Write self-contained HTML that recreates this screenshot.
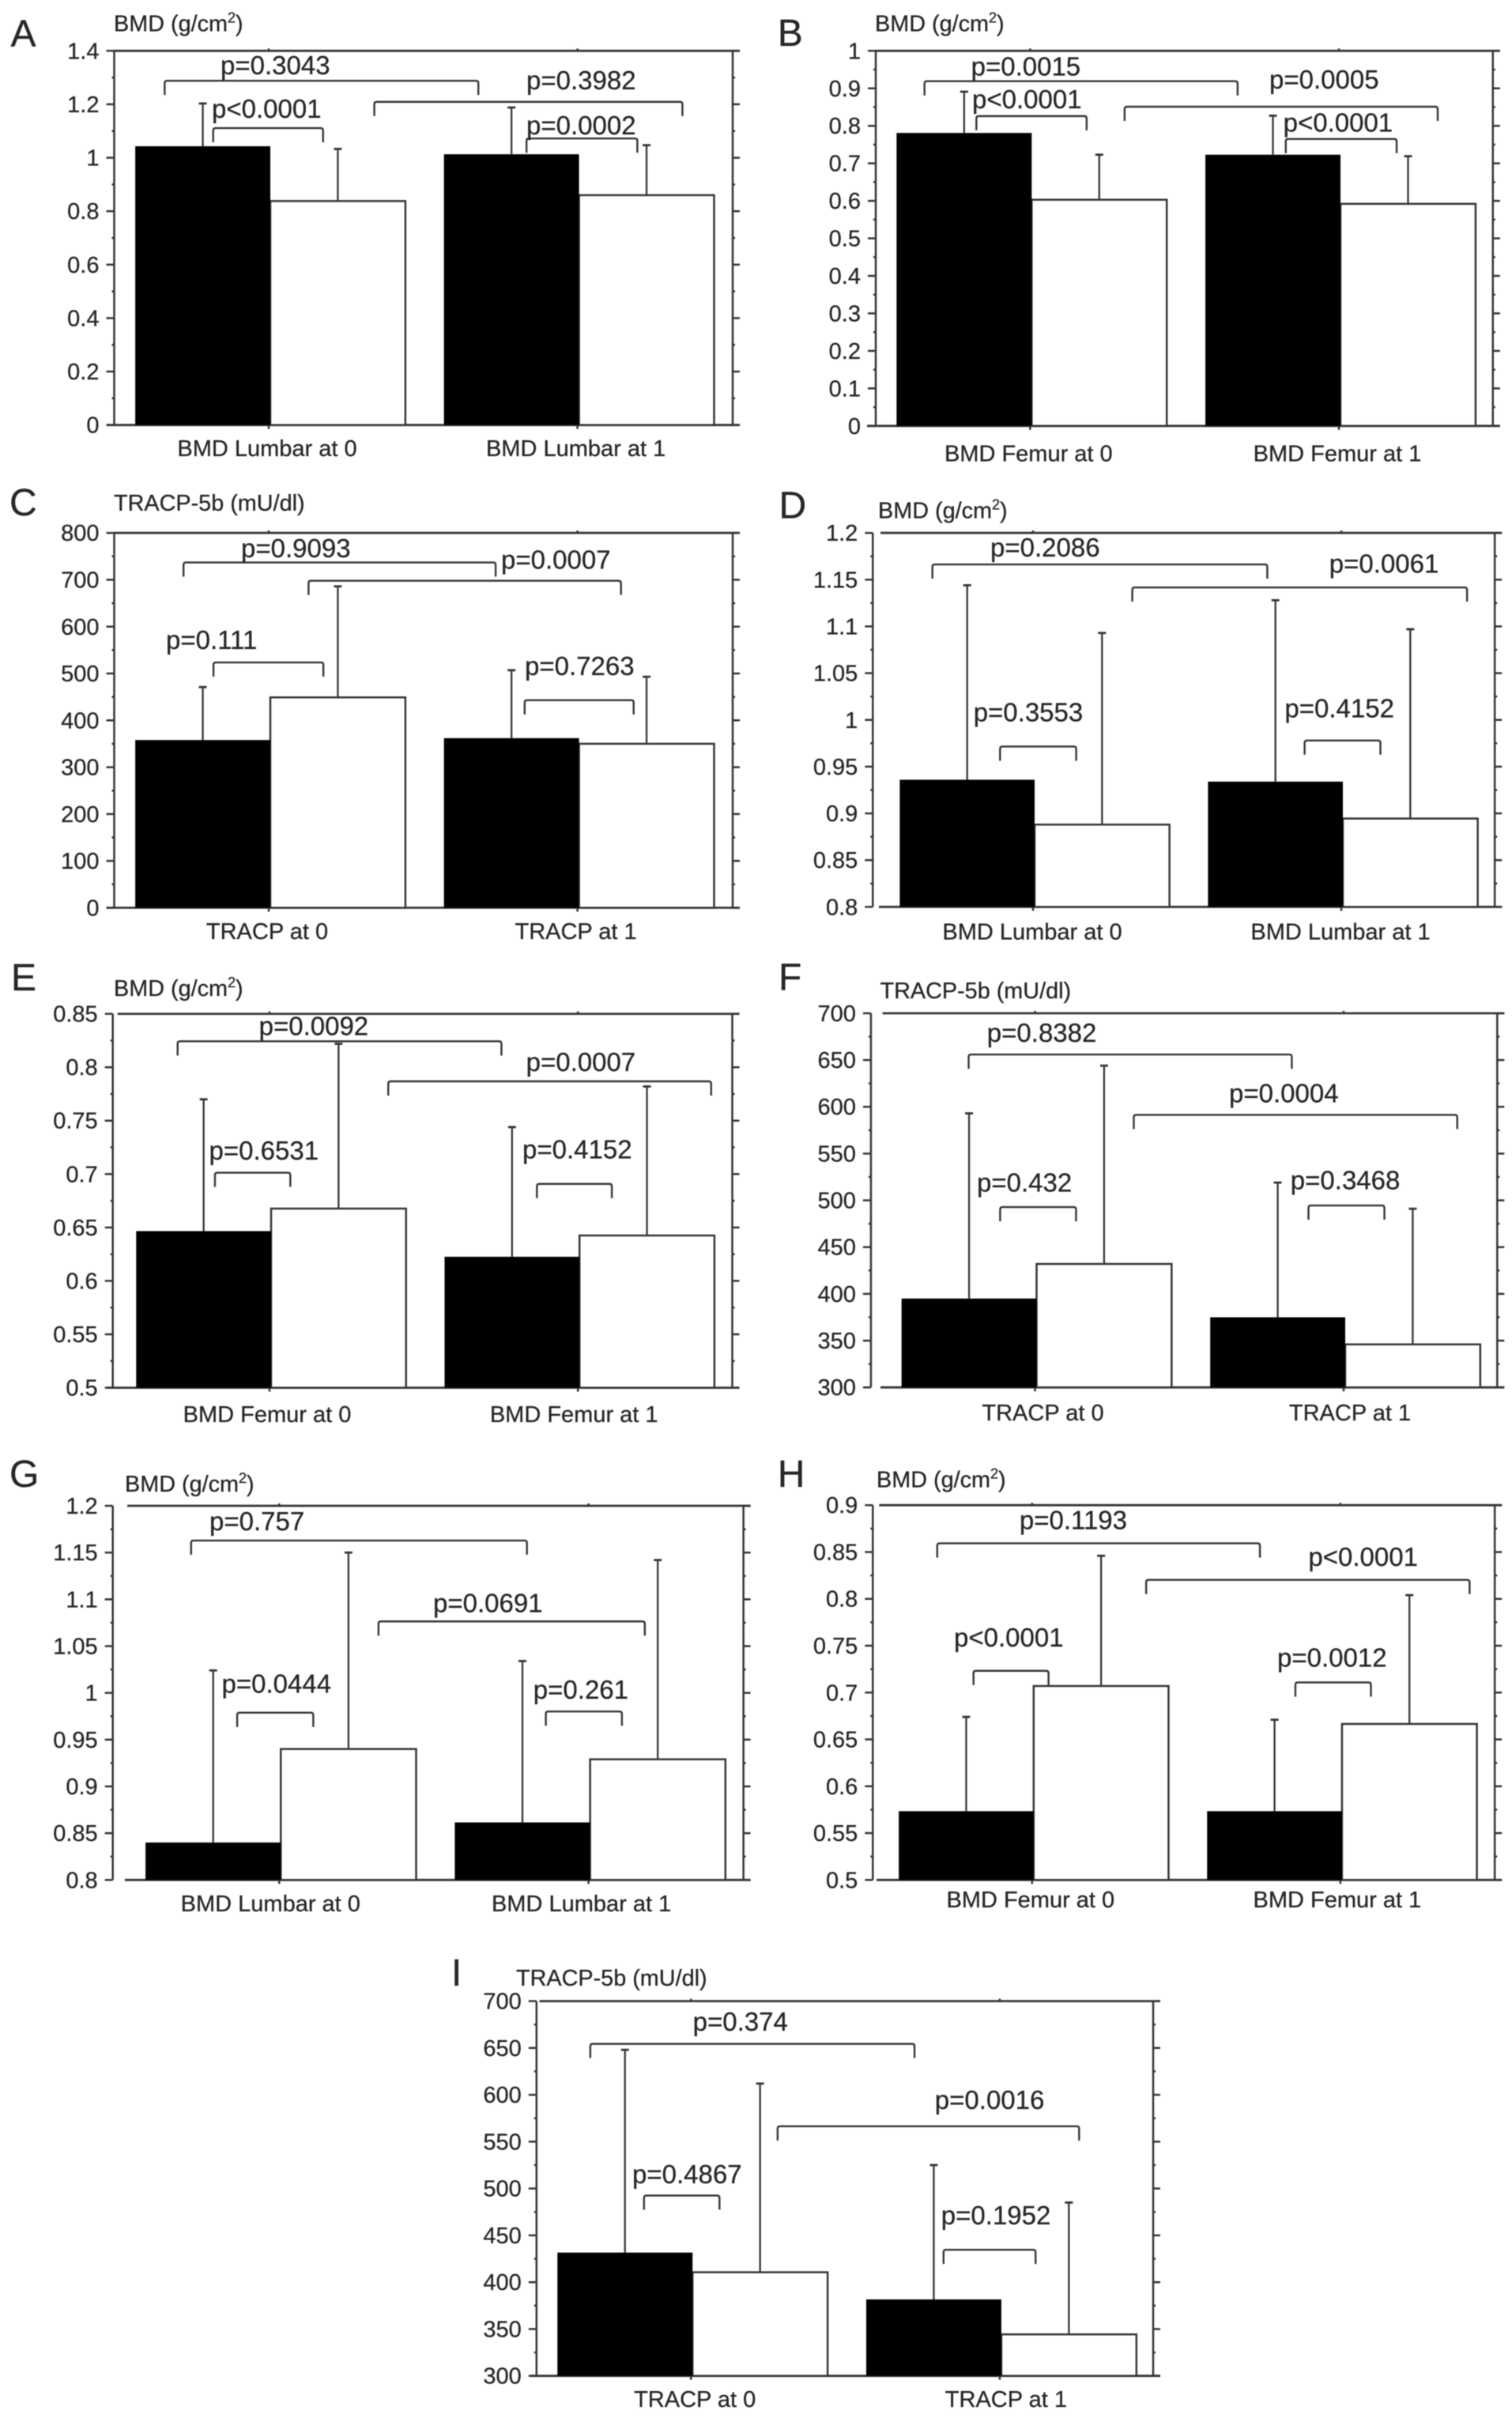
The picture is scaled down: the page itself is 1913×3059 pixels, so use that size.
<!DOCTYPE html>
<html lang="en">
<head>
<meta charset="utf-8">
<title>BMD and TRACP-5b bar charts</title>
<style>
html,body{margin:0;padding:0;background:#fff;width:1913px;height:3059px;overflow:hidden}
svg{display:block;filter:blur(.45px)}
text{font-family:"Liberation Sans",sans-serif;fill:#262626;stroke:#262626;stroke-width:.3px}
</style>
</head>
<body>
<svg id="figure" xmlns="http://www.w3.org/2000/svg" width="1913" height="3059" viewBox="0 0 1913 3059"></svg>
<script>
// ---------- chart data ----------
const A_categories = ['BMD Lumbar at 0', 'BMD Lumbar at 1'];
const A_tickLabels = ['0', '0.2', '0.4', '0.6', '0.8', '1', '1.2', '1.4'];
const A_blackValues = [1.043, 1.013];
const A_whiteValues = [0.838, 0.860];
const A_blackErrorTops = [1.203, 1.188];
const A_whiteErrorTops = [1.033, 1.047];
const A_pValues = ['p=0.3043', 'p=0.3982', 'p<0.0001', 'p=0.0002'];

const B_categories = ['BMD Femur at 0', 'BMD Femur at 1'];
const B_tickLabels = ['0', '0.1', '0.2', '0.3', '0.4', '0.5', '0.6', '0.7', '0.8', '0.9', '1'];
const B_blackValues = [0.781, 0.723];
const B_whiteValues = [0.603, 0.592];
const B_blackErrorTops = [0.891, 0.827];
const B_whiteErrorTops = [0.723, 0.719];
const B_pValues = ['p=0.0015', 'p=0.0005', 'p<0.0001', 'p<0.0001'];

const C_categories = ['TRACP at 0', 'TRACP at 1'];
const C_tickLabels = ['0', '100', '200', '300', '400', '500', '600', '700', '800'];
const C_blackValues = [358, 362];
const C_whiteValues = [449, 350];
const C_blackErrorTops = [471, 507];
const C_whiteErrorTops = [686, 493];
const C_pValues = ['p=0.9093', 'p=0.0007', 'p=0.111', 'p=0.7263'];

const D_categories = ['BMD Lumbar at 0', 'BMD Lumbar at 1'];
const D_tickLabels = ['0.8', '0.85', '0.9', '0.95', '1', '1.05', '1.1', '1.15', '1.2'];
const D_blackValues = [0.936, 0.934];
const D_whiteValues = [0.888, 0.8945];
const D_blackErrorTops = [1.144, 1.128];
const D_whiteErrorTops = [1.093, 1.097];
const D_pValues = ['p=0.2086', 'p=0.0061', 'p=0.3553', 'p=0.4152'];

const E_categories = ['BMD Femur at 0', 'BMD Femur at 1'];
const E_tickLabels = ['0.5', '0.55', '0.6', '0.65', '0.7', '0.75', '0.8', '0.85'];
const E_blackValues = [0.6466, 0.6226];
const E_whiteValues = [0.6677, 0.6425];
const E_blackErrorTops = [0.770, 0.744];
const E_whiteErrorTops = [0.822, 0.782];
const E_pValues = ['p=0.0092', 'p=0.0007', 'p=0.6531', 'p=0.4152'];

const F_categories = ['TRACP at 0', 'TRACP at 1'];
const F_tickLabels = ['300', '350', '400', '450', '500', '550', '600', '650', '700'];
const F_blackValues = [395, 375];
const F_whiteValues = [432, 346];
const F_blackErrorTops = [593, 519];
const F_whiteErrorTops = [644, 491];
const F_pValues = ['p=0.8382', 'p=0.0004', 'p=0.432', 'p=0.3468'];

const G_categories = ['BMD Lumbar at 0', 'BMD Lumbar at 1'];
const G_tickLabels = ['0.8', '0.85', '0.9', '0.95', '1', '1.05', '1.1', '1.15', '1.2'];
const G_blackValues = [0.840, 0.8615];
const G_whiteValues = [0.940, 0.929];
const G_blackErrorTops = [1.024, 1.034];
const G_whiteErrorTops = [1.150, 1.142];
const G_pValues = ['p=0.757', 'p=0.0691', 'p=0.0444', 'p=0.261'];

const H_categories = ['BMD Femur at 0', 'BMD Femur at 1'];
const H_tickLabels = ['0.5', '0.55', '0.6', '0.65', '0.7', '0.75', '0.8', '0.85', '0.9'];
const H_blackValues = [0.5734, 0.5734];
const H_whiteValues = [0.707, 0.6665];
const H_blackErrorTops = [0.674, 0.671];
const H_whiteErrorTops = [0.846, 0.804];
const H_pValues = ['p=0.1193', 'p<0.0001', 'p<0.0001', 'p=0.0012'];

const I_categories = ['TRACP at 0', 'TRACP at 1'];
const I_tickLabels = ['300', '350', '400', '450', '500', '550', '600', '650', '700'];
const I_blackValues = [431.6, 381.6];
const I_whiteValues = [410.6, 344.3];
const I_blackErrorTops = [648, 525];
const I_whiteErrorTops = [612, 485];
const I_pValues = ['p=0.374', 'p=0.0016', 'p=0.4867', 'p=0.1952'];

// comparison brackets: [from category unit, to category unit, level on value axis]
const A_brackets = [[-0.337, 0.679, 1.288], [0.342, 1.340, 1.209], [-0.180, 0.176, 1.111], [0.835, 1.194, 1.072]];
const B_brackets = [[-0.342, 0.672, 0.919], [0.306, 1.320, 0.851], [-0.174, 0.183, 0.826], [0.828, 1.187, 0.765]];
const C_brackets = [[-0.276, 0.735, 737], [0.129, 1.141, 698], [-0.179, 0.177, 523.6], [0.829, 1.182, 443]];
const D_brackets = [[-0.3265, 0.760, 1.1663], [0.322, 1.408, 1.1417], [-0.107, 0.140, 0.9715], [0.881, 1.127, 0.978]];
const E_brackets = [[-0.298, 0.752, 0.8243], [0.385, 1.432, 0.7868], [-0.177, 0.0675, 0.7013], [0.867, 1.110, 0.6908]];
const F_brackets = [[-0.215, 0.832, 655.9], [0.320, 1.368, 591.4], [-0.113, 0.133, 492.8], [0.886, 1.132, 494.5]];
const G_brackets = [[-0.285, 0.801, 1.1629], [0.321, 1.182, 1.0764], [-0.136, 0.110, 0.9788], [0.862, 1.108, 0.9801]];
const H_brackets = [[-0.3077, 0.739, 0.8593], [0.370, 1.419, 0.8203], [-0.190, 0.0534, 0.7232], [0.854, 1.099, 0.7108]];
const I_brackets = [[-0.326, 0.724, 654.4], [0.2806, 1.257, 566.4], [-0.152, 0.0925, 492.5], [0.818, 1.116, 434.6]];

// ---------- panel layout (pixel boxes and text anchors, no data) ----------
const layouts = [
 {id:'A',unit:'bmd',L:144.5,R:927,T:64.3,B:537.7,t0:340,t1:730.6,topStart:144.5,botStart:135,letter:[13.5,58.5],yTitle:[144,39.4],xBase:577,xShift:[-2,-2],
  labelPos:[[279,94],[666,113],[268,149],[666,170]],
  cat:A_categories,ticks:A_tickLabels,black:A_blackValues,white:A_whiteValues,blackErr:A_blackErrorTops,whiteErr:A_whiteErrorTops,brackets:A_brackets,p:A_pValues},
 {id:'B',unit:'bmd',L:1108,R:1888.8,T:64.3,B:538.8,t0:1303.3,t1:1694,topStart:1108,botStart:1097,letter:[983.7,58],yTitle:[1107,39.4],xBase:583.6,xShift:[-2,-2],
  labelPos:[[1228.6,95.7],[1606,112],[1230,137],[1623.6,166.5]],
  cat:B_categories,ticks:B_tickLabels,black:B_blackValues,white:B_whiteValues,blackErr:B_blackErrorTops,whiteErr:B_whiteErrorTops,brackets:B_brackets,p:B_pValues},
 {id:'C',unit:'tracp',L:144.5,R:927,T:674.2,B:1148.4,t0:340,t1:730.6,topStart:144.5,botStart:135,letter:[12,652],yTitle:[144,646],xBase:1188,xShift:[-2,-2],
  labelPos:[[305,705],[634,719.4],[210,821],[664,854]],
  cat:C_categories,ticks:C_tickLabels,black:C_blackValues,white:C_whiteValues,blackErr:C_blackErrorTops,whiteErr:C_whiteErrorTops,brackets:C_brackets,p:C_pValues},
 {id:'D',unit:'bmd',L:1104.3,R:1891.2,T:674.2,B:1147.3,t0:1307,t1:1697,topStart:1114,botStart:1112,letter:[985.5,655.5],yTitle:[1111,655.5],xBase:1188.6,xShift:[-1,-1],
  labelPos:[[1253,704],[1681.8,724.4],[1231.7,912.7],[1625.4,907.3]],
  cat:D_categories,ticks:D_tickLabels,black:D_blackValues,white:D_whiteValues,blackErr:D_blackErrorTops,whiteErr:D_whiteErrorTops,brackets:D_brackets,p:D_pValues},
 {id:'E',unit:'bmd',L:142.7,R:926.5,T:1282.6,B:1755.6,t0:341,t1:731.2,topStart:148.8,botStart:135,letter:[14,1253],yTitle:[144,1260],xBase:1799,xShift:[-3,-5],
  labelPos:[[327.6,1309.5],[665.6,1355],[264.5,1467],[661,1465.7]],
  cat:E_categories,ticks:E_tickLabels,black:E_blackValues,white:E_whiteValues,blackErr:E_blackErrorTops,whiteErr:E_whiteErrorTops,brackets:E_brackets,p:E_pValues},
 {id:'F',unit:'tracp',L:1101.9,R:1894.3,T:1281.9,B:1755.2,t0:1309.5,t1:1700,topStart:1116.6,botStart:1114,letter:[985,1252.6],yTitle:[1113.5,1263],xBase:1797,xShift:[10,8],
  labelPos:[[1248.8,1317.8],[1555,1394.5],[1236,1507.6],[1632.8,1504.5]],
  cat:F_categories,ticks:F_tickLabels,black:F_blackValues,white:F_whiteValues,blackErr:F_blackErrorTops,whiteErr:F_whiteErrorTops,brackets:F_brackets,p:F_pValues},
 {id:'G',unit:'bmd',L:142.7,R:940.6,T:1905,B:2378.3,t0:353.3,t1:744.6,topStart:161,botStart:158,letter:[12,1881],yTitle:[158,1887],xBase:2418,xShift:[-11,-9],
  labelPos:[[265,1935.9],[548,2039.5],[280.5,2141.5],[674.8,2149]],
  cat:G_categories,ticks:G_tickLabels,black:G_blackValues,white:G_whiteValues,blackErr:G_blackErrorTops,whiteErr:G_whiteErrorTops,brackets:G_brackets,p:G_pValues},
 {id:'H',unit:'bmd',L:1104.3,R:1891.2,T:1904.2,B:2378.3,t0:1305.8,t1:1695.9,topStart:1112.3,botStart:1109,letter:[983.7,1881],yTitle:[1109,1881.3],xBase:2413,xShift:[-2,-4],
  labelPos:[[1289.9,1934.7],[1655.4,1981],[1207,2083],[1616,2108.7]],
  cat:H_categories,ticks:H_tickLabels,black:H_blackValues,white:H_whiteValues,blackErr:H_blackErrorTops,whiteErr:H_whiteErrorTops,brackets:H_brackets,p:H_pValues},
 {id:'I',unit:'tracp',L:678.8,R:1459,T:2531.6,B:3005.7,t0:874.2,t1:1264.9,topStart:682.5,botStart:671,letter:[571,2512],yTitle:[653,2512],xBase:3045,xShift:[5,8],
  labelPos:[[876.6,2569],[1182.8,2667.8],[800,2761.8],[1190.8,2813.9]],
  cat:I_categories,ticks:I_tickLabels,black:I_blackValues,white:I_whiteValues,blackErr:I_blackErrorTops,whiteErr:I_whiteErrorTops,brackets:I_brackets,p:I_pValues}
];

const SVG_NS = 'http://www.w3.org/2000/svg';
const INK = '#353535';
const figure = document.getElementById('figure');

function make(parent, tag, props) {
  const el = document.createElementNS(SVG_NS, tag);
  for (const k in props) el.setAttribute(k, props[k]);
  parent.appendChild(el);
  return el;
}
function line(parent, x1, y1, x2, y2, w) {
  return make(parent, 'line', {x1: x1, y1: y1, x2: x2, y2: y2, stroke: INK, 'stroke-width': w || 2.5});
}

layouts.forEach(function (p) {
  const pid = p.id.toLowerCase();
  const g = make(figure, 'g', {});
  
  

  const yMin = parseFloat(p.ticks[0]);
  const yMax = parseFloat(p.ticks[p.ticks.length - 1]);
  const yScale = function (v) { return p.B - (v - yMin) / (yMax - yMin) * (p.B - p.T); };
  const uScale = function (u) { return p.t0 + u * (p.t1 - p.t0); };
  const barW = 0.4375 * (p.t1 - p.t0);
  const groupShift = 2;

  // panel letter
  const letter = make(g, 'text', {x: p.letter[0], y: p.letter[1], 'font-size': 48});
  letter.textContent = p.id;
  
  

  // y axis title
  const title = make(g, 'text', {x: p.yTitle[0], y: p.yTitle[1], 'font-size': 28.8});
  if (p.unit === 'bmd') {
    title.appendChild(document.createTextNode('BMD (g/cm'));
    const sup = make(title, 'tspan', {dy: -11, 'font-size': 18});
    sup.textContent = '2';
    const close = make(title, 'tspan', {dy: 11});
    close.textContent = ')';
  } else {
    title.textContent = 'TRACP-5b (mU/dl)';
  }
  
  

  // frame
  const axes = make(g, 'g', {});
  
  
  line(axes, p.L, p.T, p.L, p.B);
  line(axes, p.R, p.T, p.R, p.B);
  line(axes, p.topStart, p.T, p.R + 9, p.T, 2.8);
  line(axes, p.botStart, p.B, p.R + 9, p.B, 2.8);

  // y ticks and labels
  p.ticks.forEach(function (label, i) {
    const v = parseFloat(label);
    const y = yScale(v);
    line(axes, p.L - 10, y, p.L, y);
    line(axes, p.R, y, p.R + 9, y);
    const tick = make(g, 'text', {x: p.L - 19, y: y + 10, 'font-size': 29, 'text-anchor': 'end'});
    tick.textContent = label;
    
    
    if (i < p.ticks.length - 1) {
      const my = yScale((v + parseFloat(p.ticks[i + 1])) / 2);
      line(axes, p.L - 3, my, p.L, my);
      line(axes, p.R, my, p.R + 3, my);
    }
  });

  // bars, error bars, category labels
  p.cat.forEach(function (name, i) {
    const cx = uScale(i) + groupShift;
    const white = make(g, 'rect', {x: cx, y: yScale(p.white[i]), width: barW, height: p.B - yScale(p.white[i]), fill: '#fff', stroke: INK, 'stroke-width': 2.5});
    
    
    const black = make(g, 'rect', {x: cx - barW, y: yScale(p.black[i]), width: barW, height: p.B - yScale(p.black[i]), fill: '#000'});
    
    

    const errBlack = make(g, 'g', {});
    
    
    const bx = cx - barW / 2;
    line(errBlack, bx, yScale(p.black[i]), bx, yScale(p.blackErr[i]), 2.3);
    line(errBlack, bx - 5, yScale(p.blackErr[i]), bx + 5, yScale(p.blackErr[i]), 2.8);

    const errWhite = make(g, 'g', {});
    
    
    const wx = cx + barW / 2;
    line(errWhite, wx, yScale(p.white[i]), wx, yScale(p.whiteErr[i]), 2.3);
    line(errWhite, wx - 5, yScale(p.whiteErr[i]), wx + 5, yScale(p.whiteErr[i]), 2.8);

    // category ticks on the top and bottom edges
    line(axes, uScale(i), p.T - 3, uScale(i), p.T);
    line(axes, uScale(i), p.B, uScale(i), p.B + 5);

    const cat = make(g, 'text', {x: uScale(i) + p.xShift[i], y: p.xBase, 'font-size': 29, 'text-anchor': 'middle'});
    cat.textContent = name;
    
    
  });

  // significance brackets
  p.brackets.forEach(function (b, i) {
    const x1 = uScale(b[0]);
    const x2 = uScale(b[1]);
    const y = yScale(b[2]);
    const drop = 18;
    const br = make(g, 'path', {
      d: 'M' + x1 + ' ' + (y + drop) + 'L' + x1 + ' ' + (y + 3) + 'Q' + x1 + ' ' + y + ' ' + (x1 + 3) + ' ' + y +
         'L' + (x2 - 3) + ' ' + y + 'Q' + x2 + ' ' + y + ' ' + x2 + ' ' + (y + 3) + 'L' + x2 + ' ' + (y + drop),
      fill: 'none', stroke: INK, 'stroke-width': 2.4
    });
    
    
  });

  // p-value labels
  p.p.forEach(function (txt, i) {
    const label = make(g, 'text', {x: p.labelPos[i][0], y: p.labelPos[i][1], 'font-size': 33});
    label.textContent = txt;
    
    
  });
});
</script>
</body>
</html>
